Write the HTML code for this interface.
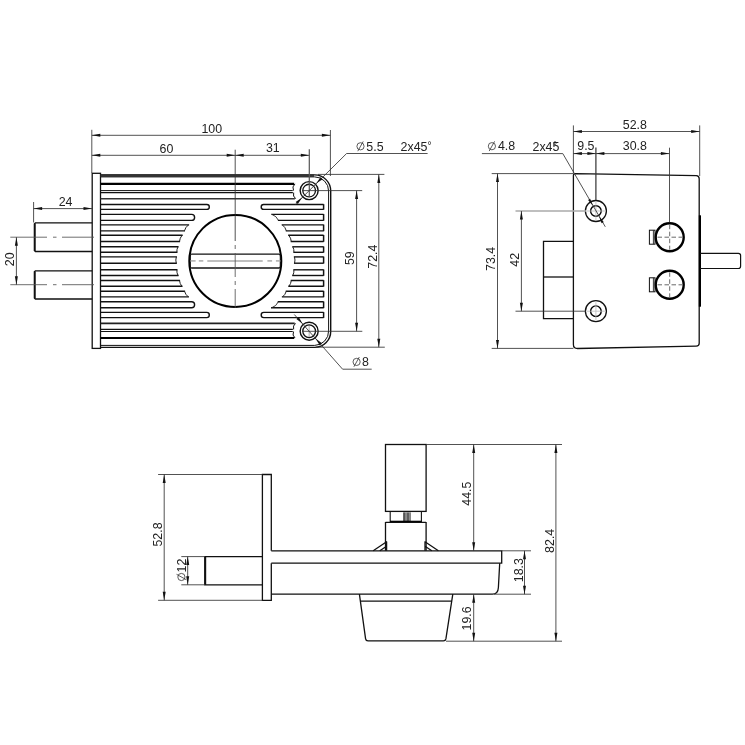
<!DOCTYPE html>
<html><head><meta charset="utf-8"><title>Drawing</title>
<style>
html,body{margin:0;padding:0;background:#fff;}
body{width:745px;height:745px;overflow:hidden;}
svg{display:block;filter:grayscale(1);}
text{font-family:"Liberation Sans",sans-serif;fill:#222;}
</style></head><body>
<svg width="745" height="745" viewBox="0 0 745 745">
<rect x="0" y="0" width="745" height="745" fill="#ffffff"/>
<rect x="92.20" y="173.30" width="8.30" height="175.10" rx="0" stroke="#111" stroke-width="1.3" fill="none"/>
<path d="M92.2 222.9 L35.4 222.9 L34.6 223.70000000000002 L34.6 250.7 L35.4 251.5 L92.2 251.5" stroke="#111" stroke-width="1.3" fill="none" />
<line x1="34.70" y1="223.40" x2="34.70" y2="251.00" stroke="#111" stroke-width="1.9" />
<path d="M92.2 270.8 L35.4 270.8 L34.6 271.6 L34.6 298.2 L35.4 299.0 L92.2 299.0" stroke="#111" stroke-width="1.3" fill="none" />
<line x1="34.70" y1="271.30" x2="34.70" y2="298.50" stroke="#111" stroke-width="1.9" />
<line x1="10.30" y1="237.20" x2="47.00" y2="237.20" stroke="#555" stroke-width="0.85" />
<line x1="53.00" y1="237.20" x2="56.50" y2="237.20" stroke="#555" stroke-width="0.85" />
<line x1="62.00" y1="237.20" x2="94.00" y2="237.20" stroke="#555" stroke-width="0.85" />
<line x1="10.30" y1="284.70" x2="47.00" y2="284.70" stroke="#555" stroke-width="0.85" />
<line x1="53.00" y1="284.70" x2="56.50" y2="284.70" stroke="#555" stroke-width="0.85" />
<line x1="62.00" y1="284.70" x2="94.00" y2="284.70" stroke="#555" stroke-width="0.85" />
<line x1="33.60" y1="202.00" x2="33.60" y2="222.50" stroke="#333" stroke-width="0.85" />
<line x1="33.60" y1="208.60" x2="92.00" y2="208.60" stroke="#333" stroke-width="0.85" />
<polygon points="33.60,208.60 42.10,207.10 42.10,210.10" fill="#111"/>
<polygon points="92.00,208.60 83.50,210.10 83.50,207.10" fill="#111"/>
<text x="65.60" y="205.80" font-size="12.4" text-anchor="middle">24</text>
<line x1="16.40" y1="237.20" x2="16.40" y2="284.70" stroke="#333" stroke-width="0.85" />
<polygon points="16.40,237.20 17.90,245.70 14.90,245.70" fill="#111"/>
<polygon points="16.40,284.70 14.90,276.20 17.90,276.20" fill="#111"/>
<text x="14.10" y="259.30" font-size="12.4" text-anchor="middle" transform="rotate(-90 14.10 259.30)">20</text>
<path d="M100.5 174.9 L314.7 174.9 A16 16 0 0 1 330.7 191.0 L330.7 330.9 A16 16 0 0 1 314.7 347.4 L100.5 347.4" stroke="#111" stroke-width="1.4" fill="none" />
<path d="M100.5 176.9 L314.7 176.9 A14 14 0 0 1 328.6 191.0 L328.6 330.9 A14.2 14.2 0 0 1 314.7 345.4 L100.5 345.4" stroke="#111" stroke-width="1.0" fill="none" />
<line x1="100.50" y1="175.60" x2="314.00" y2="175.60" stroke="#333" stroke-width="2.6" />
<line x1="100.50" y1="183.90" x2="294.18" y2="183.90" stroke="#000" stroke-width="2.2" />
<line x1="100.50" y1="190.60" x2="292.75" y2="190.60" stroke="#111" stroke-width="1.0" />
<line x1="100.50" y1="192.60" x2="292.87" y2="192.60" stroke="#111" stroke-width="1.3" />
<line x1="100.50" y1="198.70" x2="294.89" y2="198.70" stroke="#333" stroke-width="1.6" />
<line x1="100.50" y1="338.00" x2="294.23" y2="338.00" stroke="#000" stroke-width="2.2" />
<line x1="100.50" y1="331.50" x2="292.75" y2="331.50" stroke="#111" stroke-width="1.0" />
<line x1="100.50" y1="329.40" x2="292.85" y2="329.40" stroke="#111" stroke-width="1.3" />
<line x1="100.50" y1="323.40" x2="294.72" y2="323.40" stroke="#222" stroke-width="1.6" />
<path d="M294.98 183.9 A5.5 5.5 0 0 0 293.55 190.6" stroke="#111" stroke-width="1.0" fill="none" />
<path d="M293.67 192.6 A5.5 5.5 0 0 0 295.69 198.7" stroke="#111" stroke-width="1.0" fill="none" />
<path d="M295.52 323.4 A5.5 5.5 0 0 0 293.65 329.4" stroke="#111" stroke-width="1.0" fill="none" />
<path d="M293.55 331.5 A5.5 5.5 0 0 0 295.03 338.0" stroke="#111" stroke-width="1.0" fill="none" />
<path d="M100.5 204.5 L206.85 204.5 A2.45 2.45 0 0 1 206.85 209.4 L100.5 209.4" stroke="#111" stroke-width="1.4" fill="none" />
<path d="M323.6 204.5 L263.65 204.5 A2.45 2.45 0 0 0 263.65 209.4 L323.6 209.4" stroke="#111" stroke-width="1.4" fill="none" />
<line x1="323.60" y1="204.20" x2="323.60" y2="209.70" stroke="#111" stroke-width="1.5" />
<path d="M100.5 214.4 L191.60 214.4 A3.00 3.00 0 0 1 191.60 220.4 L100.5 220.4" stroke="#111" stroke-width="1.4" fill="none" />
<line x1="323.60" y1="214.40" x2="271.31" y2="214.40" stroke="#111" stroke-width="1.4" />
<line x1="323.60" y1="220.40" x2="277.88" y2="220.40" stroke="#111" stroke-width="1.4" />
<path d="M271.91 214.4 A11 11 0 0 1 278.48 220.4" stroke="#222" stroke-width="0.9" fill="none" />
<line x1="323.60" y1="214.10" x2="323.60" y2="220.70" stroke="#111" stroke-width="1.5" />
<line x1="100.50" y1="224.90" x2="189.08" y2="224.90" stroke="#111" stroke-width="1.4" />
<line x1="100.50" y1="230.90" x2="185.02" y2="230.90" stroke="#111" stroke-width="1.4" />
<path d="M188.48 224.9 A11 11 0 0 0 184.42 230.9" stroke="#222" stroke-width="1.0" fill="none" />
<line x1="323.60" y1="224.90" x2="281.72" y2="224.90" stroke="#111" stroke-width="1.4" />
<line x1="323.60" y1="230.90" x2="285.78" y2="230.90" stroke="#111" stroke-width="1.4" />
<path d="M282.32 224.9 A11 11 0 0 1 286.38 230.9" stroke="#222" stroke-width="1.0" fill="none" />
<line x1="323.60" y1="224.60" x2="323.60" y2="231.20" stroke="#111" stroke-width="1.5" />
<line x1="100.50" y1="235.30" x2="182.67" y2="235.30" stroke="#111" stroke-width="1.4" />
<line x1="100.50" y1="241.50" x2="180.10" y2="241.50" stroke="#111" stroke-width="1.4" />
<path d="M182.07 235.3 A11 11 0 0 0 179.50 241.5" stroke="#222" stroke-width="1.0" fill="none" />
<line x1="323.60" y1="235.30" x2="288.13" y2="235.30" stroke="#111" stroke-width="1.4" />
<line x1="323.60" y1="241.50" x2="290.70" y2="241.50" stroke="#111" stroke-width="1.4" />
<path d="M288.73 235.3 A11 11 0 0 1 291.30 241.5" stroke="#222" stroke-width="1.0" fill="none" />
<line x1="323.60" y1="235.00" x2="323.60" y2="241.80" stroke="#111" stroke-width="1.5" />
<line x1="100.50" y1="246.80" x2="178.53" y2="246.80" stroke="#111" stroke-width="1.4" />
<line x1="100.50" y1="252.30" x2="177.44" y2="252.30" stroke="#111" stroke-width="1.4" />
<path d="M177.93 246.8 A11 11 0 0 0 176.84 252.3" stroke="#222" stroke-width="1.0" fill="none" />
<line x1="323.60" y1="246.80" x2="292.27" y2="246.80" stroke="#111" stroke-width="1.4" />
<line x1="323.60" y1="252.30" x2="293.36" y2="252.30" stroke="#111" stroke-width="1.4" />
<path d="M292.87 246.8 A11 11 0 0 1 293.96 252.3" stroke="#222" stroke-width="1.0" fill="none" />
<line x1="323.60" y1="246.50" x2="323.60" y2="252.60" stroke="#111" stroke-width="1.5" />
<line x1="100.50" y1="256.90" x2="176.94" y2="256.90" stroke="#111" stroke-width="1.4" />
<line x1="100.50" y1="263.20" x2="176.84" y2="263.20" stroke="#111" stroke-width="1.4" />
<path d="M176.34 256.9 A11 11 0 0 0 176.24 263.2" stroke="#222" stroke-width="1.0" fill="none" />
<line x1="323.60" y1="256.90" x2="293.86" y2="256.90" stroke="#111" stroke-width="1.4" />
<line x1="323.60" y1="263.20" x2="293.96" y2="263.20" stroke="#111" stroke-width="1.4" />
<path d="M294.46 256.9 A11 11 0 0 1 294.56 263.2" stroke="#222" stroke-width="1.0" fill="none" />
<line x1="323.60" y1="256.60" x2="323.60" y2="263.50" stroke="#111" stroke-width="1.5" />
<line x1="100.50" y1="269.80" x2="177.46" y2="269.80" stroke="#111" stroke-width="1.4" />
<line x1="100.50" y1="275.50" x2="178.60" y2="275.50" stroke="#111" stroke-width="1.4" />
<path d="M176.86 269.8 A11 11 0 0 0 178.00 275.5" stroke="#222" stroke-width="1.0" fill="none" />
<line x1="323.60" y1="269.80" x2="293.34" y2="269.80" stroke="#111" stroke-width="1.4" />
<line x1="323.60" y1="275.50" x2="292.20" y2="275.50" stroke="#111" stroke-width="1.4" />
<path d="M293.94 269.8 A11 11 0 0 1 292.80 275.5" stroke="#222" stroke-width="1.0" fill="none" />
<line x1="323.60" y1="269.50" x2="323.60" y2="275.80" stroke="#111" stroke-width="1.5" />
<line x1="100.50" y1="280.50" x2="180.10" y2="280.50" stroke="#111" stroke-width="1.4" />
<line x1="100.50" y1="286.30" x2="182.48" y2="286.30" stroke="#111" stroke-width="1.4" />
<path d="M179.50 280.5 A11 11 0 0 0 181.88 286.3" stroke="#222" stroke-width="1.0" fill="none" />
<line x1="323.60" y1="280.50" x2="290.70" y2="280.50" stroke="#111" stroke-width="1.4" />
<line x1="323.60" y1="286.30" x2="288.32" y2="286.30" stroke="#111" stroke-width="1.4" />
<path d="M291.30 280.5 A11 11 0 0 1 288.92 286.3" stroke="#222" stroke-width="1.0" fill="none" />
<line x1="323.60" y1="280.20" x2="323.60" y2="286.60" stroke="#111" stroke-width="1.5" />
<line x1="100.50" y1="291.20" x2="185.08" y2="291.20" stroke="#111" stroke-width="1.4" />
<line x1="100.50" y1="296.90" x2="188.93" y2="296.90" stroke="#111" stroke-width="1.4" />
<path d="M184.48 291.2 A11 11 0 0 0 188.33 296.9" stroke="#222" stroke-width="1.0" fill="none" />
<line x1="323.60" y1="291.20" x2="285.72" y2="291.20" stroke="#111" stroke-width="1.4" />
<line x1="323.60" y1="296.90" x2="281.87" y2="296.90" stroke="#111" stroke-width="1.4" />
<path d="M286.32 291.2 A11 11 0 0 1 282.47 296.9" stroke="#222" stroke-width="1.0" fill="none" />
<line x1="323.60" y1="290.90" x2="323.60" y2="297.20" stroke="#111" stroke-width="1.5" />
<path d="M100.5 301.8 L191.60 301.8 A3.00 3.00 0 0 1 191.60 307.8 L100.5 307.8" stroke="#111" stroke-width="1.4" fill="none" />
<line x1="323.60" y1="301.80" x2="277.70" y2="301.80" stroke="#111" stroke-width="1.4" />
<line x1="323.60" y1="307.80" x2="271.05" y2="307.80" stroke="#111" stroke-width="1.4" />
<path d="M278.30 301.8 A11 11 0 0 1 271.65 307.8" stroke="#222" stroke-width="0.9" fill="none" />
<line x1="323.60" y1="301.50" x2="323.60" y2="308.10" stroke="#111" stroke-width="1.5" />
<path d="M100.5 312.4 L206.70 312.4 A2.60 2.60 0 0 1 206.70 317.6 L100.5 317.6" stroke="#111" stroke-width="1.4" fill="none" />
<path d="M323.6 312.4 L263.80 312.4 A2.60 2.60 0 0 0 263.80 317.6 L323.6 317.6" stroke="#111" stroke-width="1.4" fill="none" />
<line x1="323.60" y1="312.10" x2="323.60" y2="317.90" stroke="#111" stroke-width="1.5" />
<circle cx="235.30" cy="260.90" r="46.00" stroke="#000" stroke-width="2.0" fill="none"/>
<path d="M191.29 254.2 L279.31 254.2" stroke="#111" stroke-width="1.3" fill="none" />
<path d="M191.29 268.0 L279.31 268.0" stroke="#111" stroke-width="1.3" fill="none" />
<path d="M191.59 254.2 Q190.3 254.2 190.3 256.7 L190.3 265.5 Q190.3 268.0 191.59 268.0" stroke="#111" stroke-width="1.1" fill="none" />
<path d="M279.01 254.2 Q280.3 254.2 280.3 256.7 L280.3 265.5 Q280.3 268.0 279.01 268.0" stroke="#111" stroke-width="1.1" fill="none" />
<line x1="190.40" y1="260.90" x2="195.60" y2="260.90" stroke="#aaa" stroke-width="1.5" />
<line x1="198.80" y1="260.90" x2="203.30" y2="260.90" stroke="#aaa" stroke-width="1.5" />
<line x1="207.30" y1="260.90" x2="262.70" y2="260.90" stroke="#aaa" stroke-width="1.5" />
<line x1="267.40" y1="260.90" x2="272.10" y2="260.90" stroke="#aaa" stroke-width="1.5" />
<line x1="275.90" y1="260.90" x2="280.40" y2="260.90" stroke="#aaa" stroke-width="1.5" />
<line x1="235.20" y1="149.70" x2="235.20" y2="241.00" stroke="#333" stroke-width="0.85" />
<line x1="235.20" y1="245.00" x2="235.20" y2="249.00" stroke="#555" stroke-width="0.85" />
<line x1="235.20" y1="253.00" x2="235.20" y2="277.00" stroke="#555" stroke-width="0.85" />
<line x1="235.20" y1="281.00" x2="235.20" y2="285.00" stroke="#555" stroke-width="0.85" />
<line x1="235.20" y1="289.00" x2="235.20" y2="308.00" stroke="#555" stroke-width="0.85" />
<line x1="309.15" y1="325.20" x2="309.15" y2="337.20" stroke="#999" stroke-width="0.8" />
<circle cx="309.15" cy="190.60" r="9.00" stroke="#111" stroke-width="1.4" fill="none"/>
<circle cx="309.15" cy="190.60" r="6.35" stroke="#111" stroke-width="1.3" fill="none"/>
<circle cx="309.15" cy="331.20" r="9.00" stroke="#111" stroke-width="1.4" fill="none"/>
<circle cx="309.15" cy="331.20" r="6.35" stroke="#111" stroke-width="1.3" fill="none"/>
<line x1="91.80" y1="129.80" x2="91.80" y2="173.00" stroke="#333" stroke-width="0.85" />
<line x1="330.40" y1="130.00" x2="330.40" y2="176.00" stroke="#333" stroke-width="0.85" />
<line x1="91.80" y1="135.30" x2="330.40" y2="135.30" stroke="#333" stroke-width="0.85" />
<polygon points="91.80,135.30 100.30,133.80 100.30,136.80" fill="#111"/>
<polygon points="330.40,135.30 321.90,136.80 321.90,133.80" fill="#111"/>
<text x="211.80" y="132.60" font-size="12.4" text-anchor="middle">100</text>
<line x1="91.80" y1="155.30" x2="309.30" y2="155.30" stroke="#333" stroke-width="0.85" />
<polygon points="91.80,155.30 100.30,153.80 100.30,156.80" fill="#111"/>
<polygon points="235.20,155.30 226.70,156.80 226.70,153.80" fill="#111"/>
<polygon points="235.20,155.30 243.70,153.80 243.70,156.80" fill="#111"/>
<polygon points="309.30,155.30 300.80,156.80 300.80,153.80" fill="#111"/>
<text x="166.50" y="152.50" font-size="12.4" text-anchor="middle">60</text>
<text x="272.80" y="152.30" font-size="12.4" text-anchor="middle">31</text>
<line x1="309.30" y1="149.30" x2="309.30" y2="196.50" stroke="#555" stroke-width="1.2" />
<line x1="318.00" y1="174.40" x2="384.40" y2="174.40" stroke="#333" stroke-width="0.85" />
<line x1="302.00" y1="190.60" x2="362.20" y2="190.60" stroke="#333" stroke-width="0.85" />
<line x1="302.00" y1="331.30" x2="362.30" y2="331.30" stroke="#333" stroke-width="0.85" />
<line x1="316.00" y1="347.20" x2="384.80" y2="347.20" stroke="#333" stroke-width="0.85" />
<line x1="356.60" y1="190.60" x2="356.60" y2="331.30" stroke="#333" stroke-width="0.85" />
<polygon points="356.60,190.60 358.10,199.10 355.10,199.10" fill="#111"/>
<polygon points="356.60,331.30 355.10,322.80 358.10,322.80" fill="#111"/>
<line x1="378.80" y1="174.40" x2="378.80" y2="347.20" stroke="#333" stroke-width="0.85" />
<polygon points="378.80,174.40 380.30,182.90 377.30,182.90" fill="#111"/>
<polygon points="378.80,347.20 377.30,338.70 380.30,338.70" fill="#111"/>
<text x="354.40" y="258.20" font-size="12.4" text-anchor="middle" transform="rotate(-90 354.40 258.20)">59</text>
<text x="376.80" y="256.70" font-size="12.4" text-anchor="middle" transform="rotate(-90 376.80 256.70)">72.4</text>
<path d="M295.5 204.2 L346.6 153.5 L427.6 153.5" stroke="#333" stroke-width="0.85" fill="none" />
<polygon points="316.15,183.60 320.43,177.13 322.62,179.32" fill="#111"/>
<polygon points="302.15,197.60 297.87,204.07 295.68,201.88" fill="#111"/>
<g><circle cx="360.50" cy="146.30" r="3.6" stroke="#333" stroke-width="0.8" fill="none"/><line x1="357.80" y1="151.16" x2="363.20" y2="141.44" stroke="#333" stroke-width="0.8"/></g>
<text x="366.30" y="150.60" font-size="12.4" text-anchor="start">5.5</text>
<text x="400.60" y="150.60" font-size="12.4" text-anchor="start">2x45<tspan font-size="10" dy="-1.5">°</tspan></text>
<path d="M294.3 314.5 L342.6 369.2 L371.7 369.2" stroke="#333" stroke-width="0.85" fill="none" />
<polygon points="302.60,323.78 296.40,319.11 298.73,317.06" fill="#111"/>
<polygon points="315.70,338.62 321.90,343.29 319.57,345.34" fill="#111"/>
<g><circle cx="356.60" cy="361.90" r="3.6" stroke="#333" stroke-width="0.8" fill="none"/><line x1="353.90" y1="366.76" x2="359.30" y2="357.04" stroke="#333" stroke-width="0.8"/></g>
<text x="362.00" y="366.20" font-size="12.4" text-anchor="start">8</text>
<path d="M575.4 173.7 L696.3 175.7 Q699.2 175.8 699.2 178.8 L699.2 343.2 Q699.2 346.0 696.2 346.1 L577.5 348.5 Q573.4 348.5 573.4 344.5 L573.4 175.7 Q573.4 173.7 575.4 173.7 Z" stroke="#111" stroke-width="1.3" fill="none" />
<line x1="699.90" y1="215.30" x2="699.90" y2="306.70" stroke="#000" stroke-width="2.2" />
<path d="M573.4 241.3 L543.5 241.3 L543.5 318.7 L573.4 318.7" stroke="#111" stroke-width="1.3" fill="none" />
<line x1="543.50" y1="277.00" x2="573.40" y2="277.00" stroke="#111" stroke-width="1.3" />
<path d="M700 253.3 L738.4 253.3 Q740.6 253.3 740.6 255.5 L740.6 266.3 Q740.6 268.5 738.4 268.5 L700 268.5" stroke="#111" stroke-width="1.2" fill="none" />
<circle cx="595.90" cy="211.00" r="10.50" stroke="#111" stroke-width="1.3" fill="none"/>
<circle cx="595.90" cy="211.00" r="5.30" stroke="#000" stroke-width="1.4" fill="none"/>
<line x1="586.90" y1="211.00" x2="604.90" y2="211.00" stroke="#bbb" stroke-width="0.8" />
<line x1="595.90" y1="202.00" x2="595.90" y2="220.00" stroke="#bbb" stroke-width="0.8" />
<circle cx="595.90" cy="311.20" r="10.50" stroke="#111" stroke-width="1.3" fill="none"/>
<circle cx="595.90" cy="311.20" r="5.30" stroke="#000" stroke-width="1.4" fill="none"/>
<line x1="586.90" y1="311.20" x2="604.90" y2="311.20" stroke="#bbb" stroke-width="0.8" />
<line x1="595.90" y1="302.20" x2="595.90" y2="320.20" stroke="#bbb" stroke-width="0.8" />
<rect x="649.40" y="230.20" width="5.60" height="14.00" rx="0" stroke="#111" stroke-width="1.0" fill="none"/>
<line x1="653.40" y1="230.20" x2="653.40" y2="244.20" stroke="#222" stroke-width="0.9" />
<circle cx="669.70" cy="237.20" r="14.00" stroke="#000" stroke-width="2.4" fill="#fff"/>
<line x1="669.7" y1="224.7" x2="669.7" y2="249.7" stroke="#444" stroke-width="0.8" stroke-dasharray="4.5 2.5"/>
<line x1="657.5" y1="237.2" x2="682" y2="237.2" stroke="#444" stroke-width="0.8" stroke-dasharray="4.5 2.5"/>
<rect x="649.40" y="277.80" width="5.60" height="14.00" rx="0" stroke="#111" stroke-width="1.0" fill="none"/>
<line x1="653.40" y1="277.80" x2="653.40" y2="291.80" stroke="#222" stroke-width="0.9" />
<circle cx="669.70" cy="284.80" r="14.00" stroke="#000" stroke-width="2.4" fill="#fff"/>
<line x1="669.7" y1="272.3" x2="669.7" y2="297.3" stroke="#444" stroke-width="0.8" stroke-dasharray="4.5 2.5"/>
<line x1="657.5" y1="284.8" x2="682" y2="284.8" stroke="#444" stroke-width="0.8" stroke-dasharray="4.5 2.5"/>
<line x1="573.40" y1="125.40" x2="573.40" y2="173.50" stroke="#333" stroke-width="0.85" />
<line x1="699.70" y1="125.40" x2="699.70" y2="176.00" stroke="#333" stroke-width="0.85" />
<line x1="573.40" y1="131.50" x2="699.70" y2="131.50" stroke="#333" stroke-width="0.85" />
<polygon points="573.40,131.50 581.90,130.00 581.90,133.00" fill="#111"/>
<polygon points="699.70,131.50 691.20,133.00 691.20,130.00" fill="#111"/>
<text x="634.80" y="128.70" font-size="12.4" text-anchor="middle">52.8</text>
<line x1="573.40" y1="153.60" x2="669.40" y2="153.60" stroke="#333" stroke-width="0.85" />
<polygon points="573.40,153.60 581.90,152.10 581.90,155.10" fill="#111"/>
<polygon points="595.90,153.60 587.40,155.10 587.40,152.10" fill="#111"/>
<polygon points="595.90,153.60 604.40,152.10 604.40,155.10" fill="#111"/>
<polygon points="669.40,153.60 660.90,155.10 660.90,152.10" fill="#111"/>
<text x="585.90" y="150.40" font-size="12.4" text-anchor="middle">9.5</text>
<text x="634.80" y="150.30" font-size="12.4" text-anchor="middle">30.8</text>
<line x1="595.90" y1="147.40" x2="595.90" y2="200.00" stroke="#333" stroke-width="1.2" />
<line x1="669.50" y1="147.70" x2="669.50" y2="222.50" stroke="#333" stroke-width="0.85" />
<path d="M481.9 153.6 L562.8 153.6 L605.3 226.8" stroke="#333" stroke-width="0.85" fill="none" />
<polygon points="592.89,205.81 588.08,199.93 590.16,198.72" fill="#111"/>
<polygon points="598.91,216.19 603.72,222.07 601.64,223.28" fill="#111"/>
<g><circle cx="491.90" cy="146.20" r="3.6" stroke="#333" stroke-width="0.8" fill="none"/><line x1="489.20" y1="151.06" x2="494.60" y2="141.34" stroke="#333" stroke-width="0.8"/></g>
<text x="497.90" y="150.40" font-size="12.4" text-anchor="start">4.8</text>
<text x="532.50" y="150.50" font-size="12.4" text-anchor="start">2x45</text>
<text x="553.00" y="149.30" font-size="10" text-anchor="start">°</text>
<line x1="491.70" y1="173.60" x2="573.40" y2="173.60" stroke="#333" stroke-width="0.85" />
<line x1="491.70" y1="348.40" x2="573.40" y2="348.40" stroke="#333" stroke-width="0.85" />
<line x1="497.50" y1="173.60" x2="497.50" y2="348.40" stroke="#333" stroke-width="0.85" />
<polygon points="497.50,173.60 499.00,182.10 496.00,182.10" fill="#111"/>
<polygon points="497.50,348.40 496.00,339.90 499.00,339.90" fill="#111"/>
<text x="495.00" y="258.90" font-size="12.4" text-anchor="middle" transform="rotate(-90 495.00 258.90)">73.4</text>
<line x1="515.50" y1="211.00" x2="586.00" y2="211.00" stroke="#aaa" stroke-width="1.4" />
<line x1="515.50" y1="311.20" x2="586.00" y2="311.20" stroke="#333" stroke-width="0.85" />
<line x1="521.40" y1="211.00" x2="521.40" y2="311.20" stroke="#333" stroke-width="0.85" />
<polygon points="521.40,211.00 522.90,219.50 519.90,219.50" fill="#111"/>
<polygon points="521.40,311.20 519.90,302.70 522.90,302.70" fill="#111"/>
<text x="519.40" y="259.80" font-size="12.4" text-anchor="middle" transform="rotate(-90 519.40 259.80)">42</text>
<path d="M271.3 550.8 L271.3 474.5 L262.4 474.5 L262.4 600.3 L271.3 600.3 L271.3 563.2" stroke="#111" stroke-width="1.3" fill="none" />
<path d="M262.4 556.6 L205 556.6 L205 584.8 L262.4 584.8" stroke="#111" stroke-width="1.3" fill="none" />
<line x1="205.20" y1="556.60" x2="205.20" y2="584.80" stroke="#111" stroke-width="2.0" />
<path d="M271.3 550.8 L501.7 550.8 L501.7 563.2 L271.3 563.2" stroke="#111" stroke-width="1.3" fill="none" />
<path d="M499.7 563.2 L498.4 587.5 Q498.0 594.2 492.5 594.2 L271.3 594.2" stroke="#111" stroke-width="1.3" fill="none" />
<rect x="385.50" y="444.50" width="40.60" height="66.90" rx="0" stroke="#111" stroke-width="1.3" fill="none"/>
<path d="M390.2 511.4 L390.2 522 M421.4 511.4 L421.4 522" stroke="#111" stroke-width="1.1" fill="none" />
<rect x="403.0" y="512.4" width="8.0" height="9" fill="#777"/>
<line x1="404.20" y1="512.50" x2="404.20" y2="521.50" stroke="#444" stroke-width="1.0" />
<line x1="406.10" y1="512.50" x2="406.10" y2="521.50" stroke="#999" stroke-width="1.0" />
<line x1="408.00" y1="512.50" x2="408.00" y2="521.50" stroke="#444" stroke-width="1.0" />
<line x1="409.90" y1="512.50" x2="409.90" y2="521.50" stroke="#999" stroke-width="1.0" />
<line x1="390.00" y1="521.70" x2="421.60" y2="521.70" stroke="#000" stroke-width="2.0" />
<line x1="385.50" y1="522.30" x2="426.10" y2="522.30" stroke="#111" stroke-width="1.3" />
<path d="M385.5 522 L385.5 550.8 M426.1 522 L426.1 550.8" stroke="#111" stroke-width="1.3" fill="none" />
<path d="M373.2 550.8 L386.6 541.8 L386.6 550.8 M379.8 550.8 L386.6 546.2" stroke="#111" stroke-width="1.3" fill="none" stroke-linejoin="round"/>
<path d="M438.4 550.8 L425.0 541.8 L425.0 550.8 M431.8 550.8 L425.0 546.2" stroke="#111" stroke-width="1.3" fill="none" stroke-linejoin="round"/>
<path d="M359.4 594.2 L365.6 638.9 Q365.9 640.9 368 640.9 L443.4 640.9 Q445.5 640.9 445.9 638.9 L452.8 594.2" stroke="#111" stroke-width="1.3" fill="none" />
<line x1="360.40" y1="601.20" x2="451.70" y2="601.20" stroke="#111" stroke-width="1.2" />
<line x1="158.10" y1="474.50" x2="262.40" y2="474.50" stroke="#333" stroke-width="0.85" />
<line x1="158.10" y1="600.30" x2="262.40" y2="600.30" stroke="#333" stroke-width="0.85" />
<line x1="164.20" y1="474.50" x2="164.20" y2="600.30" stroke="#333" stroke-width="0.85" />
<polygon points="164.20,474.50 165.70,483.00 162.70,483.00" fill="#111"/>
<polygon points="164.20,600.30 162.70,591.80 165.70,591.80" fill="#111"/>
<text x="162.30" y="534.50" font-size="12.4" text-anchor="middle" transform="rotate(-90 162.30 534.50)">52.8</text>
<line x1="181.30" y1="556.60" x2="205.00" y2="556.60" stroke="#333" stroke-width="0.85" />
<line x1="181.30" y1="584.80" x2="205.00" y2="584.80" stroke="#333" stroke-width="0.85" />
<line x1="187.70" y1="556.60" x2="187.70" y2="584.80" stroke="#333" stroke-width="0.85" />
<polygon points="187.70,556.60 189.20,565.10 186.20,565.10" fill="#111"/>
<polygon points="187.70,584.80 186.20,576.30 189.20,576.30" fill="#111"/>
<text x="185.60" y="572.50" font-size="12.4" text-anchor="start" transform="rotate(-90 185.60 572.50)">12</text>
<g transform="rotate(-90 181.40 577.00)"><circle cx="181.40" cy="577.00" r="3.6" stroke="#333" stroke-width="0.8" fill="none"/><line x1="178.70" y1="581.86" x2="184.10" y2="572.14" stroke="#333" stroke-width="0.8"/></g>
<line x1="426.10" y1="444.50" x2="562.00" y2="444.50" stroke="#333" stroke-width="0.85" />
<line x1="446.00" y1="641.20" x2="562.00" y2="641.20" stroke="#333" stroke-width="0.85" />
<line x1="473.70" y1="444.50" x2="473.70" y2="550.80" stroke="#333" stroke-width="0.85" />
<polygon points="473.70,444.50 475.20,453.00 472.20,453.00" fill="#111"/>
<polygon points="473.70,550.80 472.20,542.30 475.20,542.30" fill="#111"/>
<text x="471.00" y="493.60" font-size="12.4" text-anchor="middle" transform="rotate(-90 471.00 493.60)">44.5</text>
<line x1="473.70" y1="594.20" x2="473.70" y2="641.20" stroke="#333" stroke-width="0.85" />
<polygon points="473.70,594.20 475.20,602.70 472.20,602.70" fill="#111"/>
<polygon points="473.70,641.20 472.20,632.70 475.20,632.70" fill="#111"/>
<text x="471.00" y="618.40" font-size="12.4" text-anchor="middle" transform="rotate(-90 471.00 618.40)">19.6</text>
<line x1="555.90" y1="444.50" x2="555.90" y2="641.20" stroke="#333" stroke-width="0.85" />
<polygon points="555.90,444.50 557.40,453.00 554.40,453.00" fill="#111"/>
<polygon points="555.90,641.20 554.40,632.70 557.40,632.70" fill="#111"/>
<text x="554.20" y="540.80" font-size="12.4" text-anchor="middle" transform="rotate(-90 554.20 540.80)">82.4</text>
<line x1="501.70" y1="550.80" x2="531.00" y2="550.80" stroke="#333" stroke-width="0.85" />
<line x1="494.00" y1="594.20" x2="531.00" y2="594.20" stroke="#333" stroke-width="0.85" />
<line x1="524.50" y1="550.80" x2="524.50" y2="594.20" stroke="#333" stroke-width="0.85" />
<polygon points="524.50,550.80 526.00,559.30 523.00,559.30" fill="#111"/>
<polygon points="524.50,594.20 523.00,585.70 526.00,585.70" fill="#111"/>
<text x="522.70" y="570.10" font-size="12.4" text-anchor="middle" transform="rotate(-90 522.70 570.10)">18.3</text>
</svg>
</body></html>
